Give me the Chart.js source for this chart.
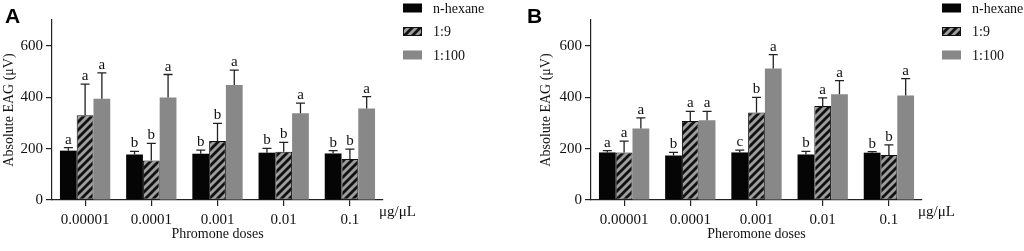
<!DOCTYPE html>
<html lang="en">
<head>
    <meta charset="UTF-8">
    <title>Absolute EAG</title>
    <script src="https://cdn.jsdelivr.net/npm/chart.js"></script>
    <style>
        body {
            margin: 0;
            background: #ffffff;
            width: 1024px;
            height: 251px;
            overflow: hidden;
            position: relative;
        }
        canvas {
            position: absolute;
            top: 0;
        }
        #chartA { left: 0; }
        #chartB { left: 512px; }
    </style>
</head>
<body>
    <canvas id="chartA" width="512" height="251"></canvas>
    <canvas id="chartB" width="512" height="251"></canvas>

    <script>
        // values (μV)
        const doses = ['0.00001', '0.0001', '0.001', '0.01', '0.1'];
        const seriesNames = ['n-hexane', '1:9', '1:100'];

        const hexaneA = [192, 177, 180, 184, 181];
        const hexaneAErr = [12, 12, 14, 17, 11];
        const ratio9A = [330, 154, 229, 188, 159];
        const ratio9AErr = [121, 66, 69, 36, 39];
        const ratio100A = [394, 399, 447, 337, 356];
        const ratio100AErr = [100, 89, 58, 40, 46];
        const lettersA = [
            ['a', 'b', 'b', 'b', 'b'],
            ['a', 'b', 'b', 'b', 'b'],
            ['a', 'a', 'a', 'a', 'a']
        ];

        const hexaneB = [185, 173, 185, 177, 184];
        const hexaneBErr = [7, 12, 9, 12, 4];
        const ratio9B = [185, 307, 340, 366, 175];
        const ratio9BErr = [44, 38, 59, 31, 39];
        const ratio100B = [278, 310, 511, 411, 406];
        const ratio100BErr = [41, 35, 54, 53, 66];
        const lettersB = [
            ['a', 'b', 'c', 'b', 'b'],
            ['a', 'a', 'b', 'a', 'b'],
            ['a', 'a', 'a', 'a', 'a']
        ];

        const serif = "'Liberation Serif', 'Times New Roman', serif";

        // diagonal hatch for the 1:9 bars
        function makeHatch() {
            const c = document.createElement('canvas');
            c.width = 8;
            c.height = 8;
            const g = c.getContext('2d');
            g.fillStyle = '#9e9e9e';
            g.fillRect(0, 0, 8, 8);
            g.strokeStyle = '#111';
            g.lineWidth = 2.8;
            g.beginPath();
            g.moveTo(-4, 4); g.lineTo(4, -4);
            g.moveTo(0, 8); g.lineTo(8, 0);
            g.moveTo(4, 12); g.lineTo(12, 4);
            g.stroke();
            return g.createPattern(c, 'repeat');
        }
        const hatch = makeHatch();

        const fills = ['#050505', hatch, '#888888'];
        const borders = ['#050505', '#111', '#888888'];
        const borderWidths = [0, 1, 0];

        // error bars (upper only) + significance letters
        const errorBarPlugin = {
            id: 'errorBars',
            afterDatasetsDraw(chart, args, opts) {
                const ctx = chart.ctx;
                const y = chart.scales.y;
                ctx.save();
                chart.data.datasets.forEach((ds, di) => {
                    const meta = chart.getDatasetMeta(di);
                    meta.data.forEach((bar, i) => {
                        const top = y.getPixelForValue(ds.data[i] + ds.errors[i]);
                        ctx.strokeStyle = '#222';
                        ctx.lineWidth = 1.3;
                        ctx.beginPath();
                        ctx.moveTo(bar.x, bar.y);
                        ctx.lineTo(bar.x, top);
                        ctx.moveTo(bar.x - 4.5, top);
                        ctx.lineTo(bar.x + 4.5, top);
                        ctx.stroke();
                        ctx.fillStyle = '#111';
                        ctx.font = '15px ' + serif;
                        ctx.textAlign = 'center';
                        ctx.textBaseline = 'alphabetic';
                        ctx.fillText(ds.letters[i], bar.x, top - 4);
                    });
                });
                ctx.restore();
            }
        };

        // legend, unit and panel letter
        const decorPlugin = {
            id: 'decor',
            afterDraw(chart, args, opts) {
                const ctx = chart.ctx;
                const area = chart.chartArea;
                ctx.save();
                chart.data.datasets.forEach((ds, i) => {
                    const bx = area.right + 20;
                    const cy = 8 + i * 23.5;
                    ctx.fillStyle = ds.backgroundColor;
                    ctx.fillRect(bx, cy - 4.5, 19, 9);
                    if (ds.borderWidth) {
                        ctx.strokeStyle = '#111';
                        ctx.lineWidth = 1;
                        ctx.strokeRect(bx + 0.5, cy - 4, 18, 8);
                    }
                    ctx.fillStyle = '#111';
                    ctx.font = '14px ' + serif;
                    ctx.textAlign = 'left';
                    ctx.textBaseline = 'middle';
                    ctx.fillText(ds.label, bx + 30, cy + 1);
                });
                ctx.font = '15px ' + serif;
                ctx.textBaseline = 'alphabetic';
                ctx.fillText('μg/μL', area.right - 4, 216);

                ctx.font = 'bold 21px "Liberation Sans", Arial, sans-serif';
                ctx.fillStyle = '#000';
                ctx.fillText(opts.letter, opts.letterX, 23);
                ctx.restore();
            }
        };

        function makePanel(id, series, errs, letters, panel) {
            const datasets = series.map((data, i) => ({
                label: seriesNames[i],
                data: data,
                errors: errs[i],
                letters: letters[i],
                backgroundColor: fills[i],
                borderColor: borders[i],
                borderWidth: borderWidths[i],
                borderSkipped: false
            }));

            return new Chart(document.getElementById(id), {
                type: 'bar',
                data: { labels: doses, datasets: datasets },
                plugins: [errorBarPlugin, decorPlugin],
                options: {
                    responsive: false,
                    animation: false,
                    datasets: {
                        bar: { barPercentage: 1, categoryPercentage: 0.76 }
                    },
                    layout: {
                        padding: { left: panel.padLeft, right: panel.padRight, top: 20, bottom: 0 }
                    },
                    plugins: {
                        legend: { display: false },
                        tooltip: { enabled: false },
                        decor: { letter: panel.letter, letterX: panel.letterX }
                    },
                    scales: {
                        x: {
                            offset: true,
                            grid: {
                                offset: false,
                                drawOnChartArea: false,
                                drawTicks: true,
                                tickLength: 6,
                                color: '#222',
                                lineWidth: 1.2
                            },
                            border: { display: true, color: '#222', width: 1.2 },
                            ticks: {
                                color: '#111',
                                font: { family: serif, size: 15 },
                                padding: 5,
                                maxRotation: 0
                            },
                            title: {
                                display: true,
                                text: panel.xTitle,
                                color: '#111',
                                font: { family: serif, size: 14 },
                                padding: { top: 0, bottom: 8 }
                            },
                            afterFit(scale) { scale.height = 51; }
                        },
                        y: {
                            min: 0,
                            max: 700,
                            grid: {
                                drawOnChartArea: false,
                                drawTicks: true,
                                tickLength: 6,
                                color: '#222',
                                lineWidth: 1.2
                            },
                            border: { display: true, color: '#222', width: 1.2 },
                            ticks: {
                                stepSize: 200,
                                color: '#111',
                                font: { family: serif, size: 15 },
                                padding: 3
                            },
                            afterBuildTicks(scale) {
                                scale.ticks = scale.ticks.filter(t => t.value % 200 === 0);
                            },
                            title: {
                                display: true,
                                text: 'Absolute EAG (μV)',
                                color: '#111',
                                font: { family: serif, size: 14 },
                                padding: { top: 1, bottom: 0 }
                            },
                            afterFit(scale) { scale.width = panel.yWidth; }
                        }
                    }
                }
            });
        }

        makePanel('chartA',
            [hexaneA, ratio9A, ratio100A],
            [hexaneAErr, ratio9AErr, ratio100AErr],
            lettersA,
            { padLeft: 0, padRight: 129, yWidth: 52, letter: 'A', letterX: 5, xTitle: 'Phromone doses' });

        makePanel('chartB',
            [hexaneB, ratio9B, ratio100B],
            [hexaneBErr, ratio9BErr, ratio100BErr],
            lettersB,
            { padLeft: 25, padRight: 102, yWidth: 54, letter: 'B', letterX: 15, xTitle: 'Pheromone doses' });
    </script>
</body>
</html>
